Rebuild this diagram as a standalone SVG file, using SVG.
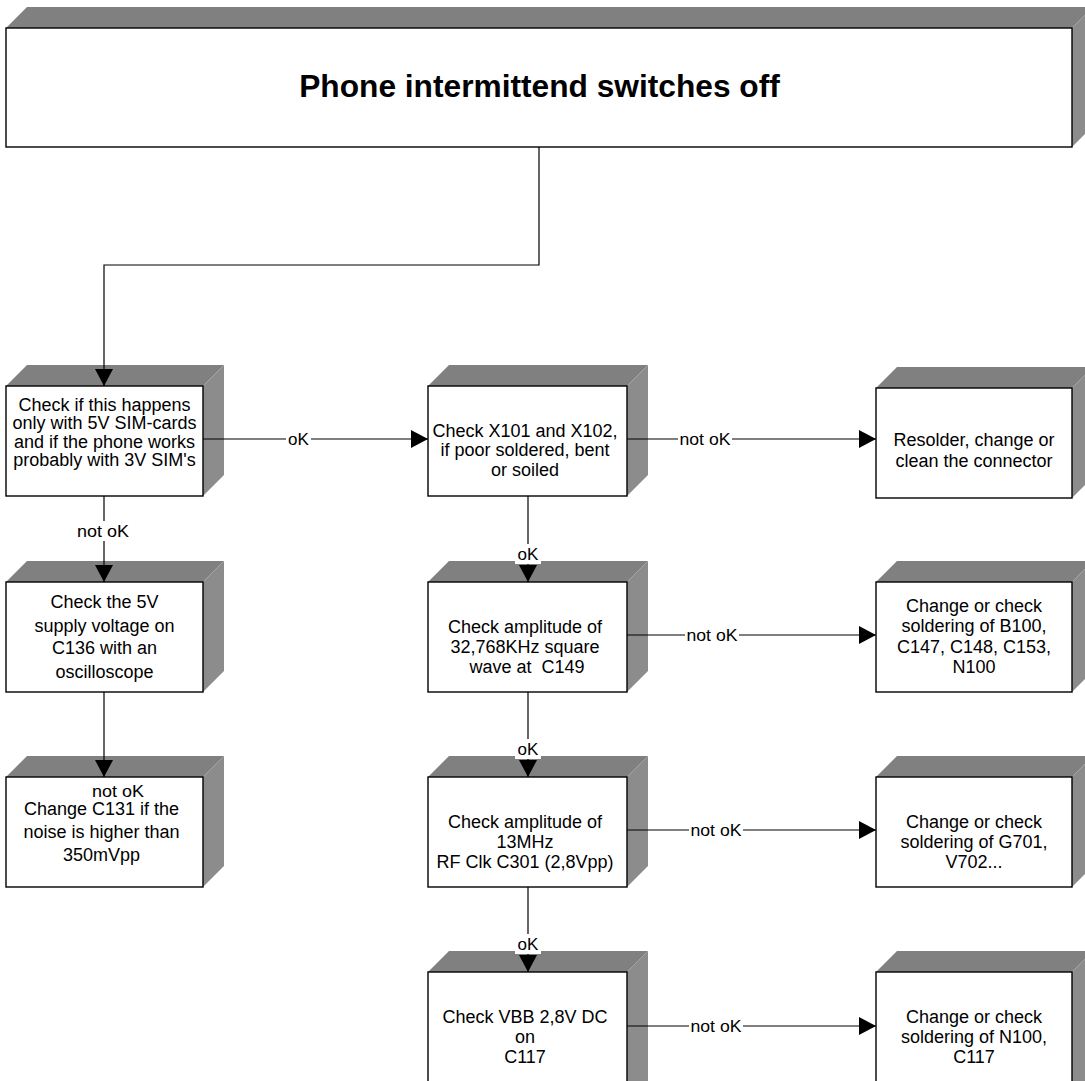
<svg xmlns="http://www.w3.org/2000/svg" width="1085" height="1081" viewBox="0 0 1085 1081">
<style>
.top{fill:#808080}
.side{fill:#8c8c8c}
.face{fill:#fff;stroke:#000;stroke-width:1.4}
.t{font-family:"Liberation Sans",Arial,sans-serif;font-size:18px;fill:#000;text-anchor:middle;white-space:pre}
.title{font-family:"Liberation Sans",Arial,sans-serif;font-size:31.7px;font-weight:bold;fill:#000;text-anchor:middle}
.lbl{font-family:"Liberation Sans",Arial,sans-serif;font-size:17px;fill:#000;text-anchor:middle}
.ln{fill:none;stroke:#000;stroke-width:1.2}
.bg{fill:#fff}
</style>
<defs>
<marker id="arr" markerUnits="userSpaceOnUse" markerWidth="20" markerHeight="20" refX="17" refY="9" orient="auto">
<path d="M0,0 L17,9 L0,18 Z" fill="#000"/>
</marker>
</defs>
<rect width="1085" height="1081" fill="#fff"/>

<g id="title-node">
<polygon class="top" points="6,28 27,7 1093,7 1072,28"/>
<polygon class="side" points="1072,28 1093,7 1093,126 1072,147"/>
<rect class="face" x="6" y="28" width="1066" height="119"/>
<text class="title" x="539.5" y="97">Phone intermittend switches off</text>
</g>

<g id="n-sim">
<polygon class="top" points="6,386 27,365 224,365 203,386"/>
<polygon class="side" points="203,386 224,365 224,475 203,496"/>
<rect class="face" x="6" y="386" width="197" height="110"/>
<text class="t" x="104.5" y="411">Check if this happens</text>
<text class="t" x="104.5" y="429">only with 5V SIM-cards</text>
<text class="t" x="104.5" y="448">and if the phone works</text>
<text class="t" x="104.5" y="466">probably with 3V SIM's</text>
</g>

<g id="n-5v">
<polygon class="top" points="6,582 27,561 224,561 203,582"/>
<polygon class="side" points="203,582 224,561 224,671 203,692"/>
<rect class="face" x="6" y="582" width="197" height="110"/>
<text class="t" x="104.5" y="608">Check the 5V</text>
<text class="t" x="104.5" y="632">supply voltage on</text>
<text class="t" x="104.5" y="654">C136 with an</text>
<text class="t" x="104.5" y="678">oscilloscope</text>
</g>

<g id="n-c131">
<polygon class="top" points="6,777 27,756 224,756 203,777"/>
<polygon class="side" points="203,777 224,756 224,866 203,887"/>
<rect class="face" x="6" y="777" width="197" height="110"/>
<text class="t" x="101.5" y="815">Change C131 if the</text>
<text class="t" x="101.5" y="838">noise is higher than</text>
<text class="t" x="101.5" y="861">350mVpp</text>
</g>

<g id="n-x101">
<polygon class="top" points="428,386 449,365 648,365 627,386"/>
<polygon class="side" points="627,386 648,365 648,475 627,496"/>
<rect class="face" x="428" y="386" width="199" height="110"/>
<text class="t" x="525" y="437">Check X101 and X102,</text>
<text class="t" x="525" y="456">if poor soldered, bent</text>
<text class="t" x="525" y="476">or soiled</text>
</g>

<g id="n-32k">
<polygon class="top" points="428,582 449,561 648,561 627,582"/>
<polygon class="side" points="627,582 648,561 648,671 627,692"/>
<rect class="face" x="428" y="582" width="199" height="110"/>
<text class="t" x="525" y="633">Check amplitude of</text>
<text class="t" x="525" y="653">32,768KHz square</text>
<text class="t" x="527" y="673">wave at  C149</text>
</g>

<g id="n-13m">
<polygon class="top" points="428,777 449,756 648,756 627,777"/>
<polygon class="side" points="627,777 648,756 648,866 627,887"/>
<rect class="face" x="428" y="777" width="199" height="110"/>
<text class="t" x="525" y="828">Check amplitude of</text>
<text class="t" x="525" y="848">13MHz</text>
<text class="t" x="525" y="868">RF Clk C301 (2,8Vpp)</text>
</g>

<g id="n-vbb">
<polygon class="top" points="428,972 449,951 648,951 627,972"/>
<polygon class="side" points="627,972 648,951 648,1082 627,1103"/>
<rect class="face" x="428" y="972" width="199" height="130"/>
<text class="t" x="525" y="1023">Check VBB 2,8V DC</text>
<text class="t" x="525" y="1043">on</text>
<text class="t" x="525" y="1063">C117</text>
</g>

<g id="n-resolder">
<polygon class="top" points="876,388 897,367 1093,367 1072,388"/>
<polygon class="side" points="1072,388 1093,367 1093,477 1072,498"/>
<rect class="face" x="876" y="388" width="196" height="110"/>
<text class="t" x="974" y="446">Resolder, change or</text>
<text class="t" x="974" y="467">clean the connector</text>
</g>

<g id="n-b100">
<polygon class="top" points="876,582 897,561 1093,561 1072,582"/>
<polygon class="side" points="1072,582 1093,561 1093,671 1072,692"/>
<rect class="face" x="876" y="582" width="196" height="110"/>
<text class="t" x="974" y="612">Change or check</text>
<text class="t" x="974" y="632">soldering of B100,</text>
<text class="t" x="974" y="653">C147, C148, C153,</text>
<text class="t" x="974" y="673">N100</text>
</g>

<g id="n-g701">
<polygon class="top" points="876,777 897,756 1093,756 1072,777"/>
<polygon class="side" points="1072,777 1093,756 1093,866 1072,887"/>
<rect class="face" x="876" y="777" width="196" height="110"/>
<text class="t" x="974" y="828">Change or check</text>
<text class="t" x="974" y="848">soldering of G701,</text>
<text class="t" x="974" y="868">V702...</text>
</g>

<g id="n-n100">
<polygon class="top" points="876,972 897,951 1093,951 1072,972"/>
<polygon class="side" points="1072,972 1093,951 1093,1082 1072,1103"/>
<rect class="face" x="876" y="972" width="196" height="130"/>
<text class="t" x="974" y="1023">Change or check</text>
<text class="t" x="974" y="1043">soldering of N100,</text>
<text class="t" x="974" y="1063">C117</text>
</g>

<g id="connectors">
<path class="ln" d="M539,147 V265 H104 V386" marker-end="url(#arr)"/>
<path class="ln" d="M203,439 H428" marker-end="url(#arr)"/>
<path class="ln" d="M627,439 H876" marker-end="url(#arr)"/>
<path class="ln" d="M104,496 V582" marker-end="url(#arr)"/>
<path class="ln" d="M104,692 V777" marker-end="url(#arr)"/>
<path class="ln" d="M528,496 V582" marker-end="url(#arr)"/>
<path class="ln" d="M627,635 H876" marker-end="url(#arr)"/>
<path class="ln" d="M528,692 V777" marker-end="url(#arr)"/>
<path class="ln" d="M627,830 H876" marker-end="url(#arr)"/>
<path class="ln" d="M528,887 V972" marker-end="url(#arr)"/>
<path class="ln" d="M627,1026 H876" marker-end="url(#arr)"/>

<rect class="bg" x="286" y="429" width="25" height="20"/>
<text class="lbl" x="298.5" y="445">oK</text>
<rect class="bg" x="678" y="429" width="54" height="20"/>
<text class="lbl" x="705" y="445" textLength="51" lengthAdjust="spacingAndGlyphs">not oK</text>
<rect class="bg" x="75" y="521" width="56" height="20"/>
<text class="lbl" x="103" y="537" textLength="52" lengthAdjust="spacingAndGlyphs">not oK</text>
<rect class="bg" x="515" y="544" width="26" height="20"/>
<text class="lbl" x="528" y="560">oK</text>
<rect class="bg" x="685" y="625" width="54" height="20"/>
<text class="lbl" x="712" y="641" textLength="51" lengthAdjust="spacingAndGlyphs">not oK</text>
<rect class="bg" x="515" y="739" width="26" height="20"/>
<text class="lbl" x="528" y="755">oK</text>
<rect class="bg" x="689" y="820" width="54" height="20"/>
<text class="lbl" x="716" y="836" textLength="51" lengthAdjust="spacingAndGlyphs">not oK</text>
<rect class="bg" x="515" y="934" width="26" height="20"/>
<text class="lbl" x="528" y="950">oK</text>
<rect class="bg" x="689" y="1016" width="54" height="20"/>
<text class="lbl" x="716" y="1032" textLength="51" lengthAdjust="spacingAndGlyphs">not oK</text>
<text class="lbl" x="118" y="797" textLength="52" lengthAdjust="spacingAndGlyphs">not oK</text>
</g>
</svg>
